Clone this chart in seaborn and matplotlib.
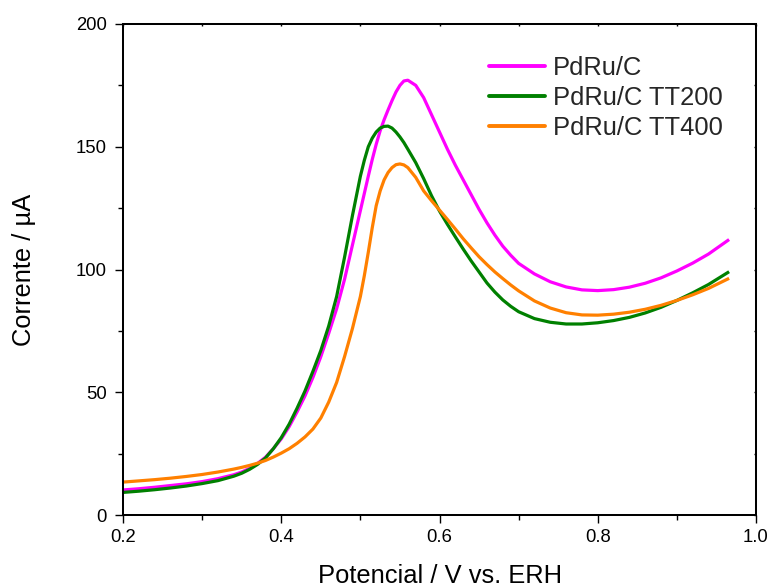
import numpy as np
import pandas as pd
import matplotlib
matplotlib.use("Agg")
import matplotlib.pyplot as plt
from matplotlib.ticker import MultipleLocator
import seaborn as sns

# ---- data ----
potential = [0.20, 0.22, 0.24, 0.26, 0.28, 0.30, 0.32, 0.34,
             0.35, 0.36, 0.37, 0.38, 0.39, 0.40, 0.41, 0.42, 0.43, 0.44,
             0.45, 0.46, 0.47, 0.48, 0.49, 0.50, 0.505, 0.51, 0.515, 0.52,
             0.525, 0.53, 0.535, 0.54, 0.545, 0.55, 0.555, 0.56, 0.57, 0.58,
             0.59, 0.60, 0.61, 0.62, 0.63, 0.64,
             0.65, 0.66, 0.67, 0.68, 0.69, 0.70,
             0.72, 0.74, 0.76, 0.78, 0.80, 0.82, 0.84, 0.86, 0.88, 0.90,
             0.92, 0.94, 0.966]

pdru_c = [10.2, 10.7, 11.3, 12.0, 12.7, 13.6, 14.8, 16.4,
          17.5, 19.0, 21.0, 23.5, 27.0, 31.0, 36.0, 42.0, 48.5, 56.0,
          64.5, 74.0, 84.0, 96.0, 110.0, 124.0, 131.0, 138.0, 144.8, 151.0,
          156.5, 161.0, 165.0, 168.8, 172.3, 175.0, 176.8, 177.1, 175.0, 170.0,
          163.0, 156.0, 149.0, 142.5, 136.5, 130.5,
          124.5, 119.0, 114.0, 109.5, 105.8, 102.5,
          98.2, 95.0, 92.9, 91.7, 91.4, 91.8, 92.8, 94.4, 96.6, 99.4,
          102.6, 106.3, 112.2]

pdru_c_tt200 = [9.2, 9.7, 10.3, 11.0, 11.8, 12.8, 14.0, 15.8,
                17.0, 18.6, 20.6, 23.2, 27.0, 31.5, 37.0, 43.5, 50.5, 58.5,
                67.0, 77.0, 89.0, 105.0, 122.0, 138.0, 144.5, 150.0, 153.5, 156.0,
                157.6, 158.3, 158.4, 157.6, 156.0, 154.0, 151.7, 149.0, 143.5, 137.0,
                130.0, 123.8, 118.4, 113.3, 108.3, 103.5,
                99.0, 94.5, 90.8, 87.6, 85.0, 82.8,
                80.0, 78.5, 77.8, 77.8, 78.3, 79.2, 80.5, 82.3, 84.6, 87.4,
                90.5, 93.9, 99.1]

pdru_c_tt400 = [13.4, 13.9, 14.4, 15.0, 15.7, 16.5, 17.5, 18.7,
                19.4, 20.2, 21.1, 22.2, 23.6, 25.2, 27.0, 29.2, 31.8, 35.0,
                39.5, 46.0, 54.0, 64.5, 76.0, 89.0, 97.5, 107.0, 117.0, 126.0,
                132.0, 136.5, 139.5, 141.5, 142.7, 143.0, 142.6, 141.5, 137.5, 132.0,
                128.0, 124.2, 120.4, 116.5, 112.5, 108.8,
                105.2, 102.0, 99.0, 96.3, 93.7, 91.3,
                87.2, 84.3, 82.4, 81.5, 81.4, 81.8, 82.6, 83.8, 85.4, 87.4,
                89.7, 92.3, 96.4]

labels = ["PdRu/C", "PdRu/C TT200", "PdRu/C TT400"]
colors = ["#FF00FF", "#008000", "#FF8000"]

x_ticks = [0.2, 0.4, 0.6, 0.8, 1.0]
y_ticks = [0, 50, 100, 150, 200]

df = pd.concat([
    pd.DataFrame({"E": potential, "I": vals, "amostra": lab})
    for vals, lab in zip([pdru_c, pdru_c_tt200, pdru_c_tt400], labels)
], ignore_index=True)

# ---- style ----
sns.set_theme(style="white")
plt.rcParams["font.family"] = ["Liberation Sans", "DejaVu Sans"]
plt.rcParams["axes.linewidth"] = 1.45
plt.rcParams["axes.edgecolor"] = "black"

fig = plt.figure(figsize=(7.71, 5.87), dpi=100)
ax = fig.add_axes([123 / 771, 1 - 515 / 587, 633 / 771, 491 / 587])

sns.lineplot(data=df, x="E", y="I", hue="amostra", hue_order=labels,
             palette=colors, linewidth=2.3, ax=ax, sort=False,
             estimator=None, legend=False)
for ln in ax.get_lines():
    ln.set_solid_joinstyle("round")
    ln.set_solid_capstyle("butt")

ax.set_xlim(0.2, 1.0)
ax.set_ylim(0, 200)
ax.set_xticks(x_ticks)
ax.set_yticks(y_ticks)
ax.set_xticklabels([f"{t:.1f}" for t in x_ticks])
ax.set_yticklabels([str(t) for t in y_ticks])
ax.xaxis.set_minor_locator(MultipleLocator(0.1))
ax.yaxis.set_minor_locator(MultipleLocator(25))

ax.tick_params(axis="both", which="major", direction="out", length=5.8,
               width=1.0, color="black", labelsize=13.3, labelcolor="black",
               bottom=True, left=True, top=False, right=False)
ax.tick_params(axis="both", which="minor", direction="out", length=3.6,
               width=1.0, color="black", bottom=True, left=True,
               top=False, right=False)
ax.tick_params(axis="x", which="major", pad=4.3)
ax.tick_params(axis="y", which="major", pad=5.8)

# tiny inward ticks on the top and right spines
sec_x = ax.secondary_xaxis("top")
sec_x.set_xticks(x_ticks)
sec_x.xaxis.set_minor_locator(MultipleLocator(0.1))
sec_x.tick_params(which="both", direction="in", length=1.5, width=1.0,
                  labeltop=False, color="black")
sec_x.spines["top"].set_visible(False)
sec_y = ax.secondary_yaxis("right")
sec_y.set_yticks(y_ticks)
sec_y.yaxis.set_minor_locator(MultipleLocator(25))
sec_y.tick_params(which="both", direction="in", length=1.5, width=1.0,
                  labelright=False, color="black")
sec_y.spines["right"].set_visible(False)

for s in ax.spines.values():
    s.set_visible(True)
    s.set_color("black")
    s.set_linewidth(1.45)

ax.set_xlabel("Potencial / V vs. ERH", fontsize=18.4, color="black")
ax.set_ylabel("Corrente / \u00b5A", fontsize=18.4, color="black")
ax.xaxis.set_label_coords(0.5, -0.100)
ax.yaxis.set_label_coords(-0.137, 0.5)

handles = [plt.Line2D([], [], color=c, linewidth=2.8) for c in colors]
ax.legend(handles, labels, loc="upper left", bbox_to_anchor=(0.578, 0.935),
          frameon=False, fontsize=18.4, handlelength=2.2, handletextpad=0.3,
          labelspacing=0.24, borderpad=0.0, borderaxespad=0.0)

fig.savefig("out.png", dpi=100, facecolor="white")
